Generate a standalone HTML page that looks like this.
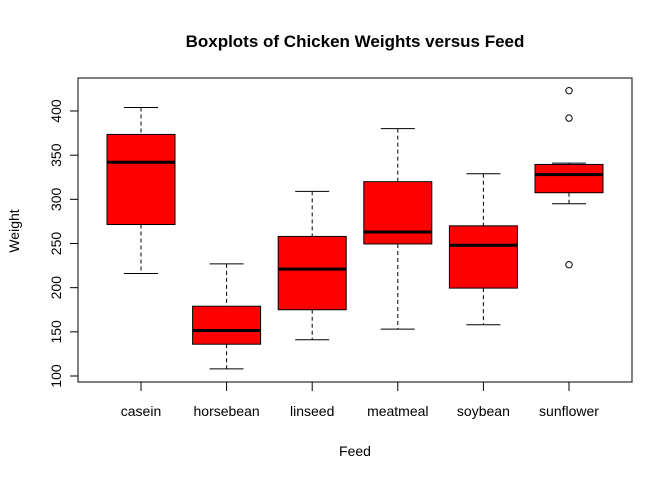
<!DOCTYPE html>
<html><head><meta charset="utf-8"><style>
html,body{margin:0;padding:0;background:#fff;}
svg{display:block;font-family:"Liberation Sans",Arial,sans-serif;}
</style></head><body>
<svg id="chart" width="672" height="480" viewBox="0 0 672 480" xmlns="http://www.w3.org/2000/svg">
<rect width="672" height="480" fill="#fff"/>
<text x="355" y="47" text-anchor="middle" font-size="17" font-weight="bold">Boxplots of Chicken Weights versus Feed</text>
<text x="355" y="456" text-anchor="middle" font-size="14">Feed</text>
<text x="19" y="231" text-anchor="middle" font-size="14" transform="rotate(-90 19 231)">Weight</text>
<rect x="78" y="78" width="554" height="304" fill="none" stroke="#000" stroke-width="1"/>
<g id="marks"></g>
</svg>
<script>
const categories = ["casein","horsebean","linseed","meatmeal","soybean","sunflower"];
const whiskerLow = [216,108,141,153,158,295];
const q1 = [271.5,136,175,249.5,199.5,307.5];
const medians = [342,151.5,221,263,248,328];
const q3 = [373.5,179,258,320,270,339.5];
const whiskerHigh = [404,227,309,380,329,341];
const outlierCat = [5,5,5];
const outlierVal = [226,392,423];
const yTicks = [100,150,200,250,300,350,400];

const NS = "http://www.w3.org/2000/svg";
const g = document.getElementById("marks");
function y(v){ return 376 - (v-100)*0.8833; }
function x(i){ return 141 + i*85.6; }
const bw = 68;
function mk(tag, attrs){
  const e = document.createElementNS(NS, tag);
  for (const k in attrs) e.setAttribute(k, attrs[k]);
  g.appendChild(e);
  return e;
}
yTicks.forEach(t=>{
  const tk = mk("line",{x1:70,x2:78,y1:y(t),y2:y(t),stroke:"#000"});
  
  
  const lb = mk("text",{x:61,y:y(t),"text-anchor":"middle","font-size":"14",transform:`rotate(-90 61 ${y(t)})`});
  lb.textContent = t;
  
  
});
categories.forEach((c,i)=>{
  const tk = mk("line",{x1:x(i),x2:x(i),y1:382,y2:391,stroke:"#000"});
  
  
  const lb = mk("text",{x:x(i),y:416,"text-anchor":"middle","font-size":"14"});
  lb.textContent = c;
  
  
  const w1 = mk("line",{x1:x(i),x2:x(i),y1:y(whiskerHigh[i]),y2:y(q3[i]),stroke:"#000","stroke-dasharray":"4,3"});
  
  
  const w2 = mk("line",{x1:x(i),x2:x(i),y1:y(q1[i]),y2:y(whiskerLow[i]),stroke:"#000","stroke-dasharray":"4,3"});
  
  
  const c1 = mk("line",{x1:x(i)-17,x2:x(i)+17,y1:y(whiskerHigh[i]),y2:y(whiskerHigh[i]),stroke:"#000"});
  
  
  const c2 = mk("line",{x1:x(i)-17,x2:x(i)+17,y1:y(whiskerLow[i]),y2:y(whiskerLow[i]),stroke:"#000"});
  
  
  const b = mk("rect",{x:x(i)-bw/2,y:y(q3[i]),width:bw,height:y(q1[i])-y(q3[i]),fill:"#ff0000",stroke:"#000"});
  
  
  const m = mk("line",{x1:x(i)-bw/2,x2:x(i)+bw/2,y1:y(medians[i]),y2:y(medians[i]),stroke:"#000","stroke-width":"3"});
  
  
});
outlierVal.forEach((v,k)=>{
  const o = mk("circle",{cx:x(outlierCat[k]),cy:y(v),r:3.2,fill:"none",stroke:"#000"});
  
  
});
</script>
</body></html>
